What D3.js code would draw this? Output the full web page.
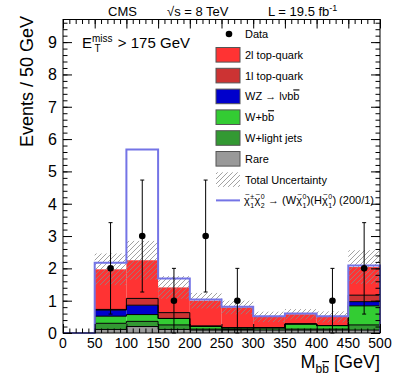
<!DOCTYPE html>
<html>
<head>
<meta charset="utf-8">
<script src="https://cdnjs.cloudflare.com/ajax/libs/d3/7.8.5/d3.min.js"></script>
<style>
html, body { margin: 0; padding: 0; background: #fff; overflow: hidden; }
svg { display: block; }
</style>
</head>
<body>
<svg id="chart"></svg>
<script>
var width = 399;
var height = 384;
var font = '"Liberation Sans", Arial, sans-serif';

// bins (lower edges, GeV) and their contents
var binLo = [0, 50, 100, 150, 200, 250, 300, 350, 400, 450];
var binWidth = 50;
var rare     = [0, 0.11, 0.20, 0.11, 0.09, 0.09, 0.09, 0.09, 0.09, 0.09];
var wLight   = [0, 0.19, 0.16, 0.14, 0.03, 0.02, 0.06, 0.03, 0.03, 0.16];
var wBB      = [0, 0.22, 0.21, 0.20, 0.09, 0.05, 0.02, 0.16, 0.11, 0.59];
var wz       = [0, 0.19, 0.29, 0, 0, 0, 0, 0, 0, 0.13];
var top1l    = [0, 0.02, 0.21, 0.18, 0, 0, 0, 0, 0, 0.20];
var top2l    = [0, 1.24, 1.18, 0.78, 0.79, 0.63, 0.33, 0.30, 0.27, 0.87];
var totUnc   = [0, 0.49, 0.60, 0.35, 0.24, 0.21, 0.16, 0.16, 0.17, 0.52];
var signal   = [0, 2.17, 5.68, 1.69, 1.04, 0.81, 0.52, 0.60, 0.52, 2.09];
var observed = [0, 2, 3, 1, 3, 1, 0, 0, 1, 2];

var yTicks = [0, 1, 2, 3, 4, 5, 6, 7, 8, 9];
var xTicks = [0, 50, 100, 150, 200, 250, 300, 350, 400, 450, 500];

// stack order bottom -> top
var layers = [
	{key: 'rare',   vals: rare,   color: '#999999', label: 'Rare'},
	{key: 'wLight', vals: wLight, color: '#339933', label: 'W+light jets'},
	{key: 'wBB',    vals: wBB,    color: '#33cc33', label: 'W+bb'},
	{key: 'wz',     vals: wz,     color: '#0000cc', label: 'WZ'},
	{key: 'top1l',  vals: top1l,  color: '#cc3333', label: '1l top-quark'},
	{key: 'top2l',  vals: top2l,  color: '#ff3333', label: '2l top-quark'}
];

var rows = binLo.map(function(lo, i) {
	var r = {lo: lo};
	layers.forEach(function(l) { r[l.key] = l.vals[i]; });
	return r;
});
var stacked = d3.stack().keys(layers.map(function(l) { return l.key; }))(rows);

var x = d3.scaleLinear().domain([0, 500]).range([63, 380]);
var y = d3.scaleLinear().domain([0, 9.7]).range([333, 19.5]);

var svg = d3.select('#chart')
	.attr('width', width)
	.attr('height', height)
	.attr('font-family', font);

svg.append('defs').append('pattern')
	.attr('id', 'hatch')
	.attr('patternUnits', 'userSpaceOnUse')
	.attr('width', 5)
	.attr('height', 5)
  .append('path')
	.attr('d', 'M-1,1 L1,-1 M0,5 L5,0 M4,6 L6,4')
	.attr('stroke', '#8a8a8a')
	.attr('stroke-width', 0.8);

function stepPoints(vals) {
	var p = [];
	vals.forEach(function(v, i) {
		p.push([binLo[i], v]);
		p.push([binLo[i] + binWidth, v]);
	});
	return p;
}
var stepLine = d3.line()
	.x(function(d) { return x(d[0]); })
	.y(function(d) { return y(d[1]); });

// stacked fills
stacked.forEach(function(s, li) {
	svg.append('g').selectAll('rect')
		.data(s.filter(function(d) { return d[1] - d[0] > 0; }))
	  .enter().append('rect')
		.attr('x', function(d) { return x(d.data.lo); })
		.attr('width', function(d) { return x(d.data.lo + binWidth) - x(d.data.lo); })
		.attr('y', function(d) { return y(d[1]); })
		.attr('height', function(d) { return y(d[0]) - y(d[1]); })
		.attr('fill', layers[li].color);
});
// black step outlines on top of each component (not the 2l one)
stacked.forEach(function(s, li) {
	if (layers[li].key == 'top2l') return;
	svg.append('path')
		.attr('d', stepLine(stepPoints(s.map(function(d) { return d[1]; }))))
		.attr('fill', 'none')
		.attr('stroke', '#000')
		.attr('stroke-width', 1);
});

// total uncertainty band
var totals = stacked[stacked.length - 1].map(function(d) { return d[1]; });
svg.append('g').selectAll('rect')
	.data(binLo.filter(function(lo, i) { return totUnc[i] > 0; }))
  .enter().append('rect')
	.attr('x', function(lo) { return x(lo); })
	.attr('width', x(binWidth) - x(0))
	.attr('y', function(lo) { var i = binLo.indexOf(lo); return y(totals[i] + totUnc[i]); })
	.attr('height', function(lo) { var i = binLo.indexOf(lo); return y(totals[i] - totUnc[i]) - y(totals[i] + totUnc[i]); })
	.attr('fill', 'url(#hatch)');

// signal (stacked on background)
var sigPts = stepPoints(signal);
sigPts.push([500, 0]);
svg.append('path')
	.attr('d', stepLine(sigPts))
	.attr('fill', 'none')
	.attr('stroke', '#7474e6')
	.attr('stroke-width', 2);

// data points with sqrt(N) errors
var pts = binLo.map(function(lo, i) { return {c: lo + binWidth / 2, n: observed[i]}; })
	.filter(function(d) { return d.n > 0; });
var dg = svg.append('g').selectAll('g').data(pts).enter().append('g');
dg.append('line')
	.attr('x1', function(d) { return x(d.c); })
	.attr('x2', function(d) { return x(d.c); })
	.attr('y1', function(d) { return y(d.n + Math.sqrt(d.n)); })
	.attr('y2', function(d) { return y(d.n - Math.sqrt(d.n)); })
	.attr('stroke', '#000').attr('stroke-width', 1);
[1, -1].forEach(function(sgn) {
	dg.append('line')
		.attr('x1', function(d) { return x(d.c) - 2; })
		.attr('x2', function(d) { return x(d.c) + 2; })
		.attr('y1', function(d) { return y(d.n + sgn * Math.sqrt(d.n)); })
		.attr('y2', function(d) { return y(d.n + sgn * Math.sqrt(d.n)); })
		.attr('stroke', '#000').attr('stroke-width', 1);
});
dg.append('circle')
	.attr('cx', function(d) { return x(d.c); })
	.attr('cy', function(d) { return y(d.n); })
	.attr('r', 3.3)
	.attr('fill', '#000');

// axes (ticks inward, ROOT style)
function styleAxis(g) {
	g.select('.domain').remove();
	g.selectAll('line').attr('stroke', '#000');
	g.selectAll('text').remove();
}
var minorY = d3.range(0, 9.7, 0.2);
var minorX = d3.range(0, 501, 10);
svg.append('g').attr('transform', 'translate(63,0)')
	.call(d3.axisLeft(y).tickValues(yTicks).tickSize(-9)).call(styleAxis);
svg.append('g').attr('transform', 'translate(63,0)')
	.call(d3.axisLeft(y).tickValues(minorY).tickSize(-4.5)).call(styleAxis);
svg.append('g').attr('transform', 'translate(380,0)')
	.call(d3.axisRight(y).tickValues(yTicks).tickSize(-9)).call(styleAxis);
svg.append('g').attr('transform', 'translate(380,0)')
	.call(d3.axisRight(y).tickValues(minorY).tickSize(-4.5)).call(styleAxis);
svg.append('g').attr('transform', 'translate(0,333)')
	.call(d3.axisBottom(x).tickValues(xTicks).tickSize(-9)).call(styleAxis);
svg.append('g').attr('transform', 'translate(0,333)')
	.call(d3.axisBottom(x).tickValues(minorX).tickSize(-4.5)).call(styleAxis);
svg.append('g').attr('transform', 'translate(0,19.5)')
	.call(d3.axisTop(x).tickValues(xTicks).tickSize(-9)).call(styleAxis);
svg.append('g').attr('transform', 'translate(0,19.5)')
	.call(d3.axisTop(x).tickValues(minorX).tickSize(-4.5)).call(styleAxis);

svg.append('rect')
	.attr('x', 63).attr('y', 19.5)
	.attr('width', 317).attr('height', 313.5)
	.attr('fill', 'none').attr('stroke', '#000').attr('stroke-width', 1);

// tick labels
var ylab = svg.append('g').attr('class', 'y-labels')
	.attr('style', 'font-size:16px;fill:#000000');
yTicks.forEach(function(v) {
	ylab.append('text')
		.attr('x', 57)
		.attr('y', y(v) + 6)
		.attr('text-anchor', 'end')
		.text(String(v));
});
xTicks.forEach(function(v) {
	svg.append('text')
		.attr('x', x(v))
		.attr('y', 348)
		.attr('text-anchor', 'middle')
		.attr('font-size', 14)
		.attr('fill', '#000')
		.text(v);
});

// axis titles
svg.append('text')
	.attr('transform', 'translate(33,16) rotate(-90)')
	.attr('text-anchor', 'end')
	.attr('font-size', 18)
	.text('Events / 50 GeV');

var xt = svg.append('text')
	.attr('x', 380).attr('y', 368)
	.attr('text-anchor', 'end')
	.attr('font-size', 18);
xt.append('tspan').text('M');
xt.append('tspan').attr('font-size', 12).attr('dy', 5).text('b');
xt.append('tspan').attr('font-size', 12).attr('text-decoration', 'overline').text('b');
xt.append('tspan').attr('dy', -5).text(' [GeV]');

// header
svg.append('text').attr('x', 108).attr('y', 15.5).attr('font-size', 13).text('CMS');
svg.append('text').attr('x', 167).attr('y', 15.5).attr('font-size', 13).text('\u221As = 8 TeV');
var lt = svg.append('text').attr('x', 268).attr('y', 15.5).attr('font-size', 13);
lt.append('tspan').text('L = 19.5 fb');
lt.append('tspan').attr('font-size', 9).attr('dy', -5).text('-1');

// MET cut label
var mt = svg.append('text').attr('x', 82).attr('y', 48).attr('font-size', 15);
mt.append('tspan').text('E');
mt.append('tspan').attr('font-size', 10).attr('dy', -6).text('miss');
mt.append('tspan').attr('font-size', 10).attr('dx', -18).attr('dy', 10).text('T');
mt.append('tspan').attr('dx', 13).attr('dy', -4).text(' > 175 GeV');

// legend
var legY0 = 34, legStep = 20.8, boxX = 216, txtX = 245;
var lg = svg.append('g').attr('font-size', 11);

lg.append('circle').attr('cx', 229).attr('cy', legY0).attr('r', 3.3).attr('fill', '#000');
lg.append('text').attr('x', txtX).attr('y', legY0 + 4).text('Data');

var legendLayers = layers.slice().reverse();
legendLayers.forEach(function(l, i) {
	var cy = legY0 + legStep * (i + 1);
	lg.append('rect')
		.attr('x', boxX).attr('y', cy - 7.3)
		.attr('width', 24).attr('height', 14.6)
		.attr('fill', l.color).attr('stroke', '#555').attr('stroke-width', 1);
	var t = lg.append('text').attr('x', txtX).attr('y', cy + 4);
	if (l.key == 'wz') {
		t.append('tspan').text('WZ \u2192 l\u03BDb');
		t.append('tspan').attr('text-decoration', 'overline').text('b');
	} else if (l.key == 'wBB') {
		t.append('tspan').text('W+b');
		t.append('tspan').attr('text-decoration', 'overline').text('b');
	} else {
		t.text(l.label);
	}
});

var uy = legY0 + legStep * 7;
lg.append('rect')
	.attr('x', boxX).attr('y', uy - 7.3)
	.attr('width', 24).attr('height', 14.6)
	.attr('fill', 'url(#hatch)');
lg.append('text').attr('x', txtX).attr('y', uy + 4).text('Total Uncertainty');

var sy = legY0 + legStep * 8;
lg.append('line')
	.attr('x1', boxX).attr('x2', boxX + 24)
	.attr('y1', sy).attr('y2', sy)
	.attr('stroke', '#7474e6').attr('stroke-width', 2);

// signal label: one text element, tspans placed one after the other
var sigText = lg.append('text').attr('xml:space', 'preserve');
var cx = txtX - 1, base = sy + 4;
function piece(str, size, dy, anchor) {
	var t = sigText.append('tspan')
		.attr('x', cx).attr('y', base + dy)
		.attr('font-size', size)
		.text(str);
	if (anchor) t.attr('text-anchor', anchor);
	return t.node().getComputedTextLength();
}
function chi(sup, sub) {
	var w = piece('\u03C7', 11, 0);
	cx += w / 2 + 0.5;
	piece('~', 8, -7.5, 'middle');
	cx += w / 2;
	var w1 = piece(sup, 7, -5);
	var w2 = piece(sub, 7, 3.5);
	cx += Math.max(w1, w2) + 0.3;
}
function plain(str) { cx += piece(str, 11, 0); }
chi('\u00B1', '1');
chi('0', '2');
plain(' \u2192 (W');
chi('0', '1');
plain(')(H');
chi('0', '1');
plain(') (200/1)');
</script>
</body>
</html>
